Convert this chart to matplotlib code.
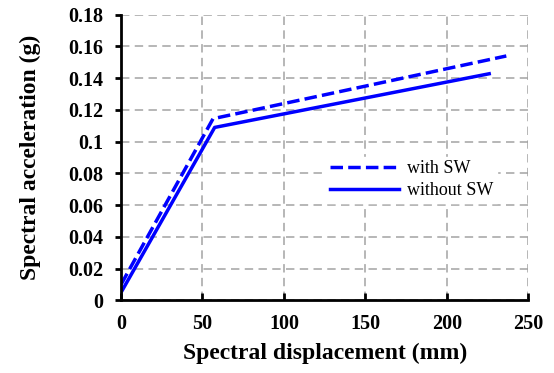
import numpy as np
import matplotlib
matplotlib.use('Agg')
import matplotlib.pyplot as plt

# values (displacement in mm, acceleration in g)
with_sw_x = [0, 56.5, 236.5]
with_sw_y = [0.010, 0.1145, 0.154]
without_sw_x = [0, 57.5, 226]
without_sw_y = [0.005, 0.109, 0.1428]

x_ticks = [0, 50, 100, 150, 200, 250]
y_ticks = [0, 0.02, 0.04, 0.06, 0.08, 0.1, 0.12, 0.14, 0.16, 0.18]
y_tick_labels = ['0', '0.02', '0.04', '0.06', '0.08', '0.1', '0.12', '0.14', '0.16', '0.18']

plt.rcParams['font.family'] = ['Liberation Serif', 'DejaVu Serif']

fig = plt.figure(figsize=(5.54, 3.73), dpi=100)
ax = fig.add_axes([0.2184, 0.1944, 0.7352, 0.7662])

ax.plot(with_sw_x, with_sw_y, color='#0000ff', lw=2.5, ls=(0, (3.6, 1.5)), label='with SW')
ax.plot(without_sw_x, without_sw_y, color='#0000ff', lw=2.5, label='without SW')

ax.set_xlim(0, 250)
ax.set_ylim(0, 0.18)
ax.set_xticks(x_ticks)
ax.set_yticks(y_ticks)
ax.set_yticklabels(y_tick_labels)
ax.grid(True, color='#a3a3a3', ls=(0, (5.5, 3.5)), lw=1.1)
ax.set_axisbelow(True)

for s in ['top', 'right']:
    ax.spines[s].set_visible(False)
for s in ['left', 'bottom']:
    ax.spines[s].set_linewidth(2)

ax.tick_params(axis='x', direction='in', length=5, width=2, labelsize=14.5, pad=10)
ax.tick_params(axis='y', direction='out', length=4, width=2, labelsize=14.5, pad=9)
for lbl in ax.get_xticklabels() + ax.get_yticklabels():
    lbl.set_fontweight('bold')

ax.set_xlabel('Spectral displacement (mm)', fontsize=17, fontweight='bold', labelpad=6)
ax.set_ylabel('Spectral acceleration (g)', fontsize=17, fontweight='bold', labelpad=19)

leg = ax.legend(loc='center left', bbox_to_anchor=(0.483, 0.422), frameon=True,
                fontsize=13, handlelength=3.8, handletextpad=0.45, labelspacing=0.28,
                borderpad=0.2, fancybox=False)
leg.get_frame().set_edgecolor('white')
leg.get_frame().set_facecolor('white')
leg.get_frame().set_alpha(1)

fig.savefig('out.png', dpi=100)
